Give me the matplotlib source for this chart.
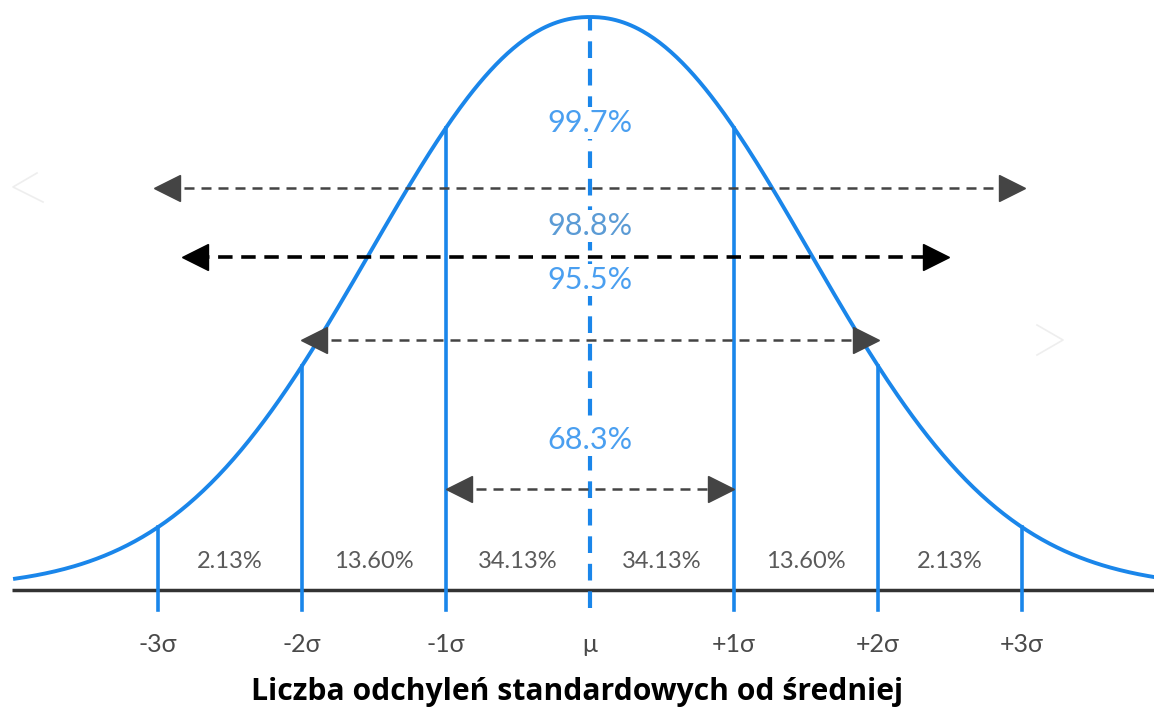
import matplotlib.pyplot as plt
import numpy as np

# band labels between the sigma lines
band_centers = [-2.5, -1.5, -0.5, 0.5, 1.5, 2.5]
band_labels = ['2.13%', '13.60%', '34.13%', '34.13%', '13.60%', '2.13%']

# x axis tick labels (in sigma units)
tick_pos = [-3, -2, -1, 0, 1, 2, 3]
tick_labels = ['-3σ', '-2σ', '-1σ', 'μ', '+1σ', '+2σ', '+3σ']

# range arrows: (left end, right end, height)
arrow_left = [-3.03, -2.83, -2.01, -1.0]
arrow_right = [3.02, 2.49, 2.01, 1.0]
arrow_y = [402, 333, 250, 101]
arrow_labels = ['99.7%', '98.8%', '95.5%', '68.3%']
label_y = [467, 364, 310, 150]

BLUE = '#1a86ea'
PX = 144.0  # pixels per sigma


def curve(x):
    # bell shape (peak 573 above the axis)
    return 2 + 571 * np.exp(-0.2157 * np.abs(x) ** 2.13)


def main():
    fig = plt.figure(figsize=(11.54, 7.08), dpi=100)
    ax = fig.add_axes([0, 0, 1, 1])
    ax.set_xlim(-590 / PX, 564 / PX)
    ax.set_ylim(-118, 590)
    ax.axis('off')

    # baseline
    ax.plot([12 / PX - 590 / PX, 564 / PX], [0, 0], color='#333333', lw=2.5,
            solid_capstyle='butt', zorder=2)

    # bell curve
    xs = np.linspace(-575 / PX, 564 / PX, 600)
    ax.plot(xs, curve(xs), color=BLUE, lw=2.8, zorder=3)

    # sigma lines
    for t in tick_pos:
        if t == 0:
            ax.plot([0, 0], [-18, curve(0)], color=BLUE, lw=3,
                    dashes=(4, 2.6), zorder=3)
        else:
            ax.plot([t, t], [-20, curve(t)], color=BLUE, lw=2.6, zorder=3)

    # tick labels
    for t, lab in zip(tick_pos, tick_labels):
        ax.text(t, -55, lab, ha='center', va='center', fontsize=18,
                color='#4a4a4a', family='Lato')

    # band labels
    for c, lab in zip(band_centers, band_labels):
        ax.text(c, 28, lab, ha='center', va='center', fontsize=17,
                color='#5a5a5a', family='Lato')

    # range arrows
    head = 0.09
    for i, (l, r, y) in enumerate(zip(arrow_left, arrow_right, arrow_y)):
        if i == 1:
            col, lw, dash, ms = 'black', 2.6, (4, 2.4), 19
        else:
            col, lw, dash, ms = '#444444', 1.8, (4, 2.8), 19
        ax.plot([l + head, r - head], [y, y], color=col, lw=lw, dashes=dash, zorder=4)
        ax.plot([l + head], [y], marker='<', ms=ms, color=col, mec=col, zorder=5)
        ax.plot([r - head], [y], marker='>', ms=ms, color=col, mec=col, zorder=5)

    # range percentages
    label_cols = ['#4a9ff0', '#5b9bd5', '#4a9ff0', '#4a9ff0']
    for lab, y, col in zip(arrow_labels, label_y, label_cols):
        ax.text(0, y, lab, ha='center', va='center', fontsize=22, color=col,
                family='Lato', zorder=6,
                bbox=dict(facecolor='white', edgecolor='none', pad=1.5))

    # faint ghost chevrons at the sides
    ax.plot([(37 - 590) / PX, (13 - 590) / PX, (43 - 590) / PX], [417, 403, 388],
            color='#eeeeee', lw=1.2)
    ax.plot([(1037 - 590) / PX, (1063 - 590) / PX, (1037 - 590) / PX], [265, 250, 235],
            color='#eeeeee', lw=1.2)

    ax.text((577 - 590) / PX, -102, 'Liczba odchyleń standardowych od średniej',
            ha='center', va='center', fontsize=21.7, fontweight='bold',
            color='black', family='Open Sans')

    fig.savefig('out.png', dpi=100)


if __name__ == "__main__":
    main()
